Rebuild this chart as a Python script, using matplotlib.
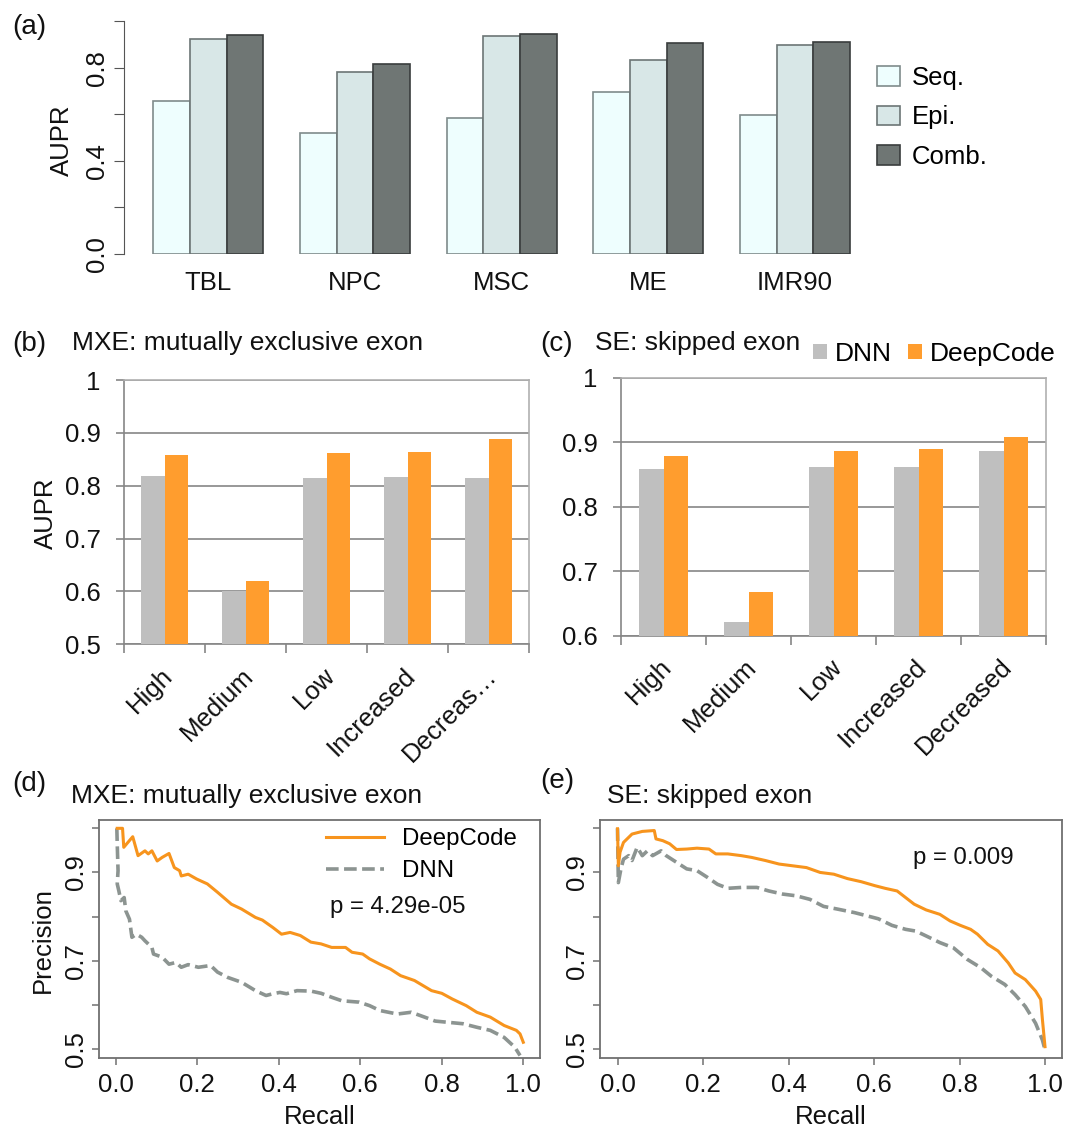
import numpy as np
import matplotlib
matplotlib.use('Agg')
import matplotlib.pyplot as plt
import matplotlib.transforms as mtransforms

plt.rcParams['font.family'] = ['Liberation Sans', 'DejaVu Sans']

# (a) AUPR per cell type
cells = ['TBL', 'NPC', 'MSC', 'ME', 'IMR90']
aupr_seq = [0.659, 0.519, 0.586, 0.695, 0.596]
aupr_epi = [0.924, 0.784, 0.938, 0.835, 0.900]
aupr_comb = [0.941, 0.817, 0.947, 0.908, 0.912]

# (b), (c) AUPR per group
groups_mxe = ['High', 'Medium', 'Low', 'Increased', 'Decreas\u2026']
groups_se = ['High', 'Medium', 'Low', 'Increased', 'Decreased']
mxe_dnn = [0.819, 0.601, 0.814, 0.816, 0.814]
mxe_deepcode = [0.858, 0.620, 0.861, 0.863, 0.888]
se_dnn = [0.858, 0.621, 0.862, 0.862, 0.887]
se_deepcode = [0.879, 0.668, 0.887, 0.889, 0.908]

# (d) MXE precision-recall curves
mxe_dc_recall = [0.004, 0.017, 0.02, 0.042, 0.055, 0.072, 0.08, 0.089, 0.102, 0.114, 0.131, 0.144,
                 0.157, 0.161, 0.178, 0.199, 0.225, 0.25, 0.284, 0.309, 0.343, 0.36, 0.386, 0.407,
                 0.428, 0.453, 0.479, 0.504, 0.53, 0.564, 0.58, 0.606, 0.623, 0.648, 0.674, 0.699,
                 0.733, 0.775, 0.8, 0.826, 0.86, 0.886, 0.919, 0.953, 0.983, 0.992, 1.0]
mxe_dc_prec = [1.0, 1.0, 0.957, 0.981, 0.938, 0.949, 0.942, 0.949, 0.926, 0.934, 0.943, 0.911,
               0.904, 0.892, 0.896, 0.885, 0.874, 0.855, 0.828, 0.817, 0.798, 0.792, 0.775, 0.760,
               0.764, 0.757, 0.742, 0.738, 0.730, 0.730, 0.719, 0.715, 0.704, 0.692, 0.681, 0.666,
               0.655, 0.632, 0.626, 0.613, 0.598, 0.583, 0.572, 0.553, 0.542, 0.534, 0.515]
mxe_dnn_recall = [0.003, 0.004, 0.006, 0.004, 0.008, 0.013, 0.021, 0.025, 0.034, 0.04, 0.051, 0.064,
                  0.072, 0.089, 0.093, 0.114, 0.131, 0.148, 0.161, 0.178, 0.203, 0.233, 0.25, 0.275,
                  0.309, 0.343, 0.369, 0.386, 0.403, 0.419, 0.445, 0.479, 0.504, 0.53, 0.555, 0.597,
                  0.623, 0.648, 0.691, 0.725, 0.758, 0.784, 0.818, 0.852, 0.886, 0.919, 0.953, 0.979,
                  0.992]
mxe_dnn_prec = [1.0, 0.964, 0.904, 0.874, 0.858, 0.836, 0.843, 0.813, 0.794, 0.753, 0.760, 0.753,
                0.745, 0.730, 0.715, 0.708, 0.692, 0.696, 0.685, 0.691, 0.685, 0.689, 0.674, 0.662,
                0.651, 0.632, 0.621, 0.625, 0.628, 0.625, 0.632, 0.631, 0.626, 0.617, 0.609, 0.606,
                0.598, 0.587, 0.579, 0.583, 0.572, 0.563, 0.560, 0.557, 0.549, 0.542, 0.526, 0.504,
                0.485]

# (e) SE precision-recall curves
se_dc_recall = [0.0, 0.002, 0.006, 0.014, 0.034, 0.058, 0.086, 0.09, 0.106, 0.122, 0.138, 0.162,
                0.186, 0.214, 0.23, 0.258, 0.29, 0.314, 0.346, 0.378, 0.41, 0.442, 0.474, 0.506,
                0.538, 0.57, 0.602, 0.626, 0.654, 0.674, 0.694, 0.722, 0.754, 0.778, 0.802, 0.826,
                0.842, 0.866, 0.89, 0.914, 0.93, 0.954, 0.978, 0.99, 0.994, 1.0]
se_dc_prec = [0.999, 0.915, 0.946, 0.968, 0.987, 0.993, 0.995, 0.976, 0.972, 0.965, 0.952, 0.953,
              0.955, 0.953, 0.942, 0.942, 0.938, 0.934, 0.927, 0.919, 0.915, 0.911, 0.900, 0.896,
              0.886, 0.879, 0.870, 0.864, 0.858, 0.843, 0.828, 0.815, 0.805, 0.790, 0.780, 0.771,
              0.760, 0.737, 0.722, 0.695, 0.672, 0.657, 0.631, 0.612, 0.566, 0.505]
se_dnn_recall = [0.0, 0.002, 0.008, 0.014, 0.026, 0.034, 0.046, 0.058, 0.07, 0.082, 0.102, 0.114,
                 0.138, 0.162, 0.186, 0.21, 0.234, 0.258, 0.29, 0.326, 0.354, 0.386, 0.418, 0.45,
                 0.482, 0.514, 0.554, 0.586, 0.61, 0.642, 0.674, 0.698, 0.722, 0.754, 0.786, 0.818,
                 0.85, 0.874, 0.906, 0.93, 0.954, 0.978, 0.994, 1.0]
se_dnn_prec = [1.0, 0.877, 0.908, 0.930, 0.938, 0.927, 0.957, 0.938, 0.949, 0.938, 0.949, 0.938,
               0.923, 0.908, 0.904, 0.889, 0.873, 0.864, 0.866, 0.866, 0.858, 0.851, 0.847, 0.839,
               0.823, 0.817, 0.809, 0.801, 0.795, 0.780, 0.771, 0.767, 0.756, 0.741, 0.729, 0.703,
               0.684, 0.665, 0.646, 0.623, 0.596, 0.558, 0.520, 0.498]

W, H = 1065, 1131
fig = plt.figure(figsize=(W / 100, H / 100), dpi=100)
TXT = '#111111'


def px_axes(l, t, r, b):
    return fig.add_axes([l / W, 1 - b / H, (r - l) / W, (b - t) / H])


def ftext(x, y, s, **kw):
    kw.setdefault('color', TXT)
    fig.text(x / W, 1 - y / H, s, **kw)


# ---------------- (a)
ax = px_axes(124, 21.3, 870, 254)
xa = np.arange(len(cells)) * 4 + 1
ax.bar(xa, aupr_seq, 1, align='edge', color='#EEFEFE', edgecolor='#7f8b8b', lw=1.2, label='Seq.')
ax.bar(xa + 1, aupr_epi, 1, align='edge', color='#D8E7E7', edgecolor='#6c7575', lw=1.2, label='Epi.')
ax.bar(xa + 2, aupr_comb, 1, align='edge', color='#6F7674', edgecolor='#3a3d3d', lw=1.2, label='Comb.')
ax.set_xlim(0.2, 20.55)
ax.set_ylim(0, 1)
for s in ['top', 'right', 'bottom']:
    ax.spines[s].set_visible(False)
ax.spines['left'].set_bounds(0, 1)
ax.spines['left'].set_color('#555555')
ax.set_xticks(xa + 1.5, cells)
ax.tick_params(axis='x', length=0, pad=12.5, labelsize=18.5, labelcolor=TXT)
ax.set_yticks([0, 0.2, 0.4, 0.6, 0.8, 1.0], ['0.0', '', '0.4', '', '0.8', ''])
ax.tick_params(axis='y', length=7, color='#555555', pad=4, labelsize=18.5, labelcolor=TXT,
               labelrotation=90)
for lab in ax.get_yticklabels():
    lab.set_va('center')
ax.legend(loc='upper left', bbox_to_anchor=(877 / W, 1 - 66 / H), bbox_transform=fig.transFigure,
          frameon=False, fontsize=18.5, handlelength=0.9, handleheight=0.78, handletextpad=0.45,
          labelspacing=0.6, borderpad=0, borderaxespad=0)
ftext(62, 140, 'AUPR', rotation=90, ha='center', va='center', fontsize=18.5)
ftext(12, 34, '(a)', fontsize=20, va='baseline')


# ---------------- (b), (c)
def excel_bars(ax, cats, dnn, dc, ymin, ylabels):
    i = np.arange(len(cats))
    w = 0.285
    ax.bar(i + 0.5 - w, dnn, w, align='edge', color='#BFBFBF', label='DNN', zorder=3)
    ax.bar(i + 0.5, dc, w, align='edge', color='#FF9D2E', label='DeepCode', zorder=3)
    ax.set_xlim(0, len(cats))
    ax.set_ylim(ymin, 1.0)
    ax.set_yticks(np.linspace(ymin, 1.0, len(ylabels)), ylabels)
    ax.yaxis.grid(True, color='#868686', lw=1.2)
    ax.set_axisbelow(True)
    for s in ['top', 'right']:
        ax.spines[s].set_color('#b0b0b0')
        ax.spines[s].set_linewidth(1.2)
    for s in ['left', 'bottom']:
        ax.spines[s].set_color('#868686')
        ax.spines[s].set_linewidth(1.2)
    ax.set_xticks(np.arange(len(cats) + 1))
    ax.set_xticklabels([])
    ax.tick_params(axis='x', length=6.5, width=1.2, color='#868686')
    ax.tick_params(axis='y', length=6, width=1.2, color='#868686', pad=11, labelsize=18.5,
                   labelcolor=TXT)
    base = mtransforms.blended_transform_factory(ax.transData, ax.transAxes)
    off = mtransforms.ScaledTranslation(-4 / 100, -19 / 100, fig.dpi_scale_trans)
    for k, c in enumerate(cats):
        ax.text(k + 0.5, 0, c, transform=base + off, rotation=45, ha='right', va='top',
                rotation_mode='anchor', fontsize=18.5, color=TXT)


ax_b = px_axes(124, 380, 529, 644.3)
excel_bars(ax_b, groups_mxe, mxe_dnn, mxe_deepcode, 0.5, ['0.5', '0.6', '0.7', '0.8', '0.9', '1'])
ftext(46, 513, 'AUPR', rotation=90, ha='center', va='center', fontsize=18.5)
ftext(12, 351, '(b)', fontsize=20, va='baseline')
ftext(72, 350, 'MXE: mutually exclusive exon', fontsize=19, va='baseline')

ax_c = px_axes(621, 377.7, 1046, 635.5)
excel_bars(ax_c, groups_se, se_dnn, se_deepcode, 0.6, ['0.6', '0.7', '0.8', '0.9', '1'])
ftext(540, 351, '(c)', fontsize=20, va='baseline')
ftext(595, 350, 'SE: skipped exon', fontsize=19, va='baseline')
ax_c.legend(loc='center left', bbox_to_anchor=(813 / W, 1 - 354 / H), bbox_transform=fig.transFigure,
            ncol=2, frameon=False, fontsize=19, handlelength=0.53, handleheight=0.53,
            handletextpad=0.3, columnspacing=0.6, borderpad=0, borderaxespad=0)


# ---------------- (d), (e)
def pr_panel(ax, r_dc, p_dc, r_dnn, p_dnn):
    ax.plot(r_dnn, p_dnn, color='#8C9491', lw=2.6, dashes=(3.5, 1.5), label='DNN')
    ax.plot(r_dc, p_dc, color='#F7941D', lw=2.2, label='DeepCode')
    ax.set_xlim(-0.04, 1.04)
    ax.set_ylim(0.48, 1.02)
    ax.set_xticks(np.arange(0, 1.01, 0.2), ['0.0', '0.2', '0.4', '0.6', '0.8', '1.0'])
    ax.set_yticks([0.5, 0.6, 0.7, 0.8, 0.9, 1.0], ['0.5', '', '0.7', '', '0.9', ''])
    for s in ax.spines.values():
        s.set_color('#707070')
        s.set_linewidth(1.3)
    ax.tick_params(axis='x', length=5, width=1.1, color='#707070', pad=6, labelsize=18.5,
                   labelcolor=TXT)
    ax.tick_params(axis='y', length=5, width=1.1, color='#707070', pad=3, labelsize=18.5,
                   labelcolor=TXT, labelrotation=90)
    for lab in ax.get_yticklabels():
        lab.set_va('center')


ax_d = px_axes(99.3, 819.5, 539.6, 1057.7)
pr_panel(ax_d, mxe_dc_recall, mxe_dc_prec, mxe_dnn_recall, mxe_dnn_prec)
h, l = ax_d.get_legend_handles_labels()
ax_d.legend(h[::-1], l[::-1], loc='upper left', bbox_to_anchor=(326 / W, 1 - 828 / H),
            bbox_transform=fig.transFigure, frameon=False, fontsize=17.3, handlelength=2.4,
            handletextpad=0.78, labelspacing=0.42, borderpad=0, borderaxespad=0)
ftext(330, 907, 'p = 4.29e-05', fontsize=17.3, va='center')
ftext(12, 791, '(d)', fontsize=20, va='baseline')
ftext(71, 803, 'MXE: mutually exclusive exon', fontsize=19, va='baseline')
ftext(43, 940, 'Precision', rotation=90, ha='center', va='center', fontsize=18.5)
ftext(319.5, 1117, 'Recall', ha='center', va='center', fontsize=18.5)

ax_e = px_axes(600.4, 819.5, 1062.1, 1057.7)
pr_panel(ax_e, se_dc_recall, se_dc_prec, se_dnn_recall, se_dnn_prec)
ftext(913, 858, 'p = 0.009', fontsize=17.3, va='center')
ftext(540, 788, '(e)', fontsize=20, va='baseline')
ftext(607, 803, 'SE: skipped exon', fontsize=19, va='baseline')
ftext(831, 1117, 'Recall', ha='center', va='center', fontsize=18.5)

fig.savefig('out.png', dpi=100, facecolor='white')
